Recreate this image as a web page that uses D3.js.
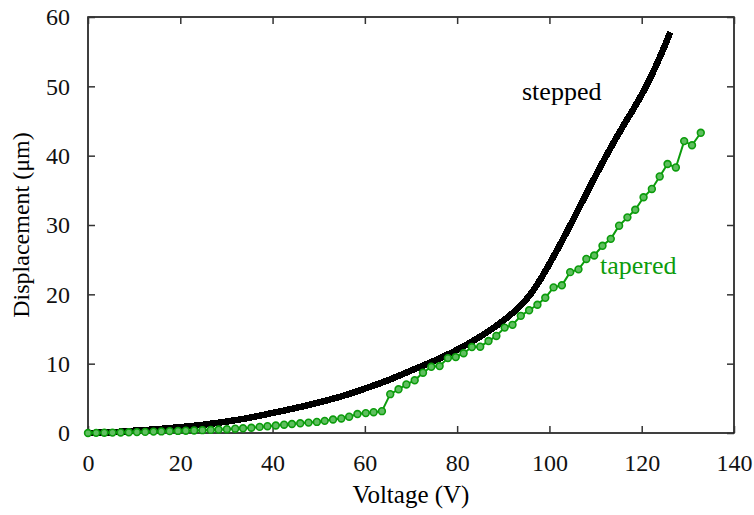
<!DOCTYPE html>
<html>
<head>
<meta charset="utf-8">
<script src="https://cdn.jsdelivr.net/npm/d3@7"></script>
<style>
  body { margin: 0; background: #fff; }
</style>
</head>
<body>
<script>
// stepped actuator: voltage (V) vs displacement (um)
const steppedV = [0, 5, 10, 15, 20, 25, 30, 35, 40, 45, 50, 55, 60, 65, 70, 75, 80, 85, 90, 93, 96, 98, 100, 102, 104, 106, 108, 110, 112, 114, 116, 118, 120, 122, 124, 126.2]
const steppedD = [0, 0.1, 0.33, 0.55, 0.85, 1.2, 1.65, 2.2, 2.9, 3.6, 4.4, 5.3, 6.4, 7.6, 9.0, 10.4, 12.0, 13.9, 16.2, 17.9, 20.1, 22.1, 24.4, 26.8, 29.3, 31.9, 34.5, 37.1, 39.6, 42.0, 44.3, 46.5, 48.8, 51.4, 54.3, 57.8]

// tapered actuator
const taperedV = [0, 1.77, 3.54, 5.31, 7.08, 8.85, 10.6, 12.4, 14.2, 15.9, 17.7, 19.5, 21.2, 23.0, 24.8, 26.6, 28.3, 30.1, 31.9, 33.6, 35.4, 37.2, 38.9, 40.7, 42.5, 44.2, 46.0, 47.8, 49.6, 51.3, 53.1, 54.9, 56.6, 58.4, 60.2, 61.9, 63.7,
  65.5, 67.3, 69.0, 70.8, 72.6, 74.4, 76.2, 78.0, 79.7, 81.4, 83.2, 85.0, 86.8, 88.5, 90.3, 92.0, 93.8, 95.6, 97.4, 99.1, 100.9, 102.7, 104.5, 106.3, 108.0, 109.7, 111.5, 113.3, 115.1, 116.9, 118.6, 120.4, 122.2, 123.9, 125.6, 127.4, 129.2, 130.9, 132.8]
const taperedD = [0, 0.02, 0.04, 0.06, 0.08, 0.1, 0.13, 0.16, 0.2, 0.23, 0.27, 0.3, 0.33, 0.37, 0.41, 0.45, 0.5, 0.55, 0.62, 0.68, 0.76, 0.88, 0.98, 1.08, 1.2, 1.3, 1.4, 1.5, 1.6, 1.75, 1.95, 2.1, 2.35, 2.73, 2.87, 3.0, 3.15,
  5.6, 6.3, 7.0, 7.6, 8.7, 9.55, 9.65, 10.8, 10.95, 11.5, 12.4, 12.45, 13.26, 14.0, 15.2, 15.6, 16.9, 17.7, 18.5, 19.5, 21.0, 21.3, 23.2, 23.6, 25.1, 25.6, 27.0, 28.0, 29.9, 31.1, 32.2, 34.0, 35.2, 37.0, 38.8, 38.3, 42.1, 41.5, 43.3]

const xTicks = [0, 20, 40, 60, 80, 100, 120, 140]
const yTicks = [0, 10, 20, 30, 40, 50, 60]

const width = 754
const height = 515
const margin = ({top: 17, right: 20, bottom: 82, left: 88})
const font = "'Liberation Serif', serif"
const green = "#0c9c0c"

const x = d3.scaleLinear()
    .domain([0, 140])
    .range([margin.left, width - margin.right])

const y = d3.scaleLinear()
    .domain([0, 60])
    .range([height - margin.bottom, margin.top])

const svg = d3.select("body").append("svg")
    .attr("width", width)
    .attr("height", height)
    .style("font-family", font)

// frame
svg.append("rect")
    .attr("x", margin.left)
    .attr("y", margin.top)
    .attr("width", width - margin.left - margin.right)
    .attr("height", height - margin.top - margin.bottom)
    .attr("fill", "none")
    .attr("stroke", "#000")
    .attr("stroke-width", 1.5)

// inward ticks on all four sides, labels only bottom/left
const tick = 7
svg.append("g")
    .attr("transform", `translate(0,${height - margin.bottom})`)
    .call(d3.axisBottom(x).tickValues(xTicks).tickSize(-tick).tickPadding(21))
svg.append("g")
    .attr("transform", `translate(0,${margin.top})`)
    .call(d3.axisTop(x).tickValues(xTicks).tickSize(-tick).tickFormat(""))
svg.append("g")
    .attr("transform", `translate(${margin.left},0)`)
    .call(d3.axisLeft(y).tickValues(yTicks).tickSize(-tick).tickPadding(18))
svg.append("g")
    .attr("transform", `translate(${width - margin.right},0)`)
    .call(d3.axisRight(y).tickValues(yTicks).tickSize(-tick).tickFormat(""))

svg.selectAll(".domain").remove()
svg.selectAll("g").attr("font-family", null)
svg.selectAll(".tick line").attr("stroke", "#333").attr("stroke-width", 1.5)
svg.selectAll(".tick text")
    .style("font-family", font)
    .attr("font-size", 24)
    .attr("fill", "#111")

// axis titles
svg.append("text")
    .attr("x", x(70))
    .attr("y", 503)
    .attr("text-anchor", "middle")
    .attr("font-size", 25)
    .style("font-family", font)
    .text("Voltage (V)")

svg.append("text")
    .attr("transform", `translate(29,${y(30)}) rotate(-90)`)
    .attr("text-anchor", "middle")
    .attr("font-size", 24)
    .style("font-family", font)
    .text("Displacement (μm)")

// stepped curve
const stepped = steppedV.map((v, i) => ({v: v, d: steppedD[i]}))
const line = d3.line()
    .x(d => x(d.v))
    .y(d => y(d.d))
    .curve(d3.curveMonotoneX)

svg.append("path")
    .datum(stepped)
    .attr("fill", "none")
    .attr("stroke", "#000")
    .attr("stroke-width", 6.5)
    .attr("shape-rendering", "crispEdges")
    .attr("d", line)

// tapered curve
const tapered = taperedV.map((v, i) => ({v: v, d: taperedD[i]}))
svg.append("path")
    .datum(tapered)
    .attr("fill", "none")
    .attr("stroke", green)
    .attr("stroke-width", 2)
    .attr("d", d3.line().x(d => x(d.v)).y(d => y(d.d)))

svg.append("g")
    .selectAll("circle")
    .data(tapered)
    .enter()
    .append("circle")
      .attr("cx", d => x(d.v))
      .attr("cy", d => y(d.d))
      .attr("r", 3.4)
      .attr("fill", "#5fbf5f")
      .attr("stroke", green)
      .attr("stroke-width", 1.6)

// series labels
svg.append("text")
    .attr("x", 522)
    .attr("y", 100)
    .attr("font-size", 26)
    .style("font-family", font)
    .attr("fill", "#000")
    .text("stepped")

svg.append("text")
    .attr("x", 600)
    .attr("y", 274)
    .attr("font-size", 26)
    .style("font-family", font)
    .attr("fill", green)
    .text("tapered")
</script>
</body>
</html>
